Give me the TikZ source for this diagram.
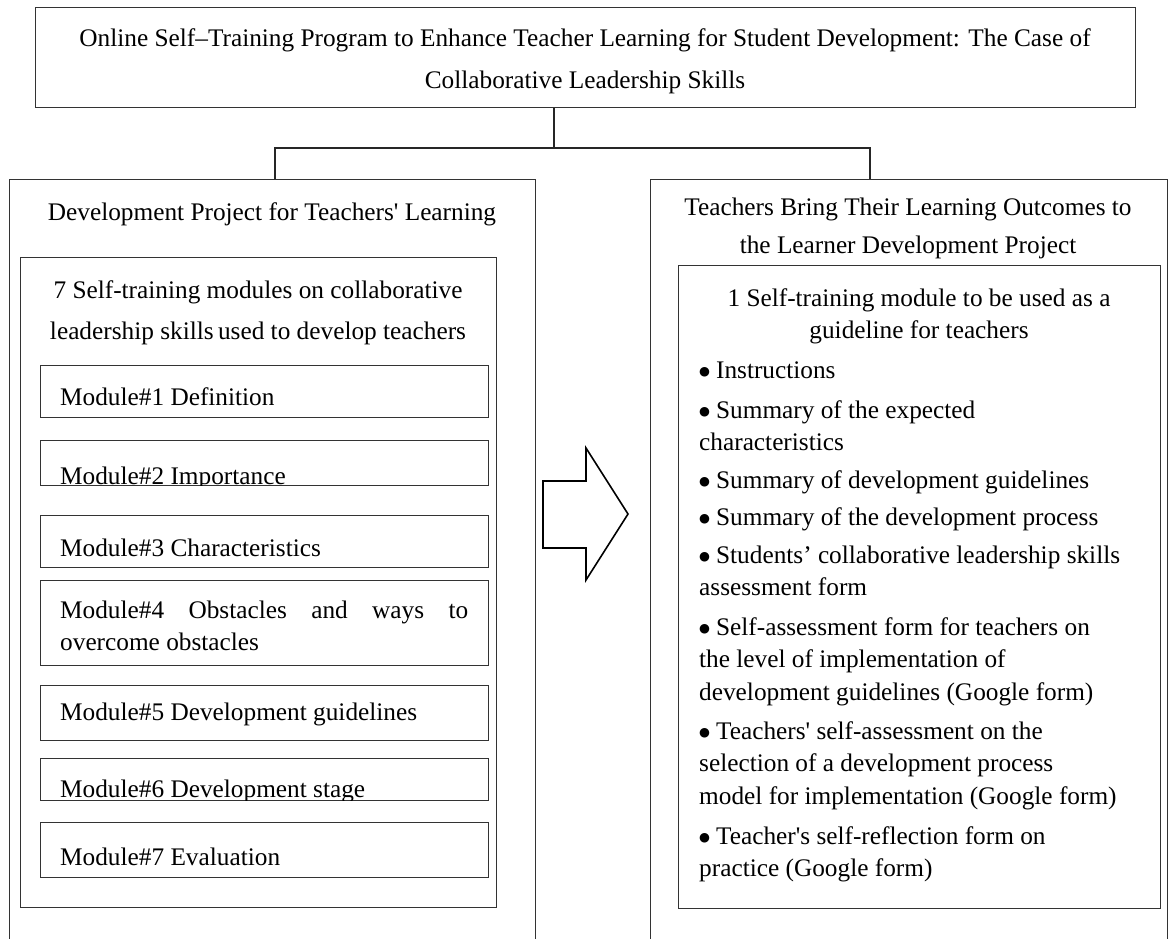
\documentclass[tikz,border=0pt]{standalone}
\usepackage{fontspec}
\setmainfont{Liberation Serif}
\newfontfamily\djv{DejaVu Sans}
\newcommand{\bul}{\raisebox{2.8pt}{\djv\fontsize{12.5}{12.5}\selectfont ●}\hspace{6pt}}
\begin{document}
\begin{tikzpicture}[x=1pt,y=-1pt,
  box/.style={draw=black!80,line width=1.1pt,inner sep=0pt,anchor=north west},
  txt/.style={inner sep=0pt,anchor=base,font=\fontsize{25.3}{30}\selectfont},
  ltxt/.style={txt,anchor=base west},
  conn/.style={draw=black!85,line width=1.1pt},
  arrowshape/.style={draw=black,line width=1.6pt,line join=miter}]
\useasboundingbox (0,0) rectangle (1169,938);
% top box
\node[box,minimum width=1100pt,minimum height=100pt] (top) at (35,7) {};
\node[txt] (t1) at (585,46) {Online Self–Training Program to Enhance Teacher Learning for Student Development: The Case of};
\node[txt] (t2) at (585,88) {Collaborative Leadership Skills};
% outer boxes
\node[box,minimum width=526pt,minimum height=765pt] (lbox) at (9,179) {};
\node[box,minimum width=517pt,minimum height=765pt] (rbox) at (650,179) {};
% connectors
\coordinate (jm) at (554,148);
\coordinate (jl) at (275,148);
\coordinate (jr) at (870,148);
\draw[conn] (top.south -| jm) -- (jm);
\draw[conn] (jl |- lbox.north) -- (jl) -- (jr) -- (jr |- rbox.north);
% left column
\node[txt] (lt) at (272,220) {Development Project for Teachers\textquotesingle{} Learning};
\node[box,minimum width=476pt,minimum height=650pt] (lin) at (20,257) {};
\node[txt] (l1) at (258,298) {7 Self-training modules on collaborative};
\node[txt] (l2) at (258,339) {leadership skills\hspace{-2pt} used to develop teachers};
% modules
\node[box,minimum width=448pt,minimum height=52pt] (m1) at (40,365) {};
\node[ltxt] at (60,405) {Module\#1 Definition};
\node[box,minimum width=448pt,minimum height=45pt] (m2) at (40,440) {};
\begin{scope}
\clip (40,440) rectangle (488,485);
\node[ltxt] at (60,484) {Module\#2 Importance};
\end{scope}
\node[box,minimum width=448pt,minimum height=52pt] (m3) at (40,515) {};
\node[ltxt] at (60,556) {Module\#3 Characteristics};
\node[box,minimum width=448pt,minimum height=85pt] (m4) at (40,580) {};
\node[ltxt] at (60,618) {\makebox[408pt][s]{Module\#4 Obstacles and ways to}};
\node[ltxt] at (60,650) {overcome obstacles};
\node[box,minimum width=448pt,minimum height=55pt] (m5) at (40,685) {};
\node[ltxt] at (60,720) {Module\#5 Development guidelines};
\node[box,minimum width=448pt,minimum height=42pt] (m6) at (40,758) {};
\begin{scope}
\clip (40,758) rectangle (488,800);
\node[ltxt] at (60,797) {Module\#6 Development stage};
\end{scope}
\node[box,minimum width=448pt,minimum height=55pt] (m7) at (40,822) {};
\node[ltxt] at (60,865) {Module\#7 Evaluation};
% arrow
\draw[arrowshape] (543,481) -- (586,481) -- (586,448) -- (628,514) -- (586,580) -- (586,548) -- (543,548) -- cycle;
% right column
\node[txt] (rt1) at (908,215) {Teachers Bring Their Learning Outcomes to};
\node[txt] (rt2) at (908,253) {the Learner Development Project};
\node[box,minimum width=482pt,minimum height=643pt] (rin) at (678,265) {};
\node[txt] at (919,306) {1 Self-training module to be used as a};
\node[txt] at (919,338) {guideline for teachers};
\node[ltxt] at (699,378) {\bul Instructions};
\node[ltxt] at (699,418) {\bul Summary of the expected};
\node[ltxt] at (699,450) {characteristics};
\node[ltxt] at (699,488) {\bul Summary of development guidelines};
\node[ltxt] at (699,525) {\bul Summary of the development process};
\node[ltxt] at (699,563) {\bul Students’ collaborative leadership skills};
\node[ltxt] at (699,595) {assessment form};
\node[ltxt] at (699,635) {\bul Self-assessment form for teachers on};
\node[ltxt] at (699,667) {the level of implementation of};
\node[ltxt] at (699,700) {development guidelines (Google form)};
\node[ltxt] at (699,739) {\bul Teachers\textquotesingle{} self-assessment on the};
\node[ltxt] at (699,771) {selection of a development process};
\node[ltxt] at (699,804) {model for implementation (Google form)};
\node[ltxt] at (699,844) {\bul Teacher\textquotesingle{}s self-reflection form on};
\node[ltxt] at (699,876) {practice (Google form)};
\end{tikzpicture}
\end{document}
